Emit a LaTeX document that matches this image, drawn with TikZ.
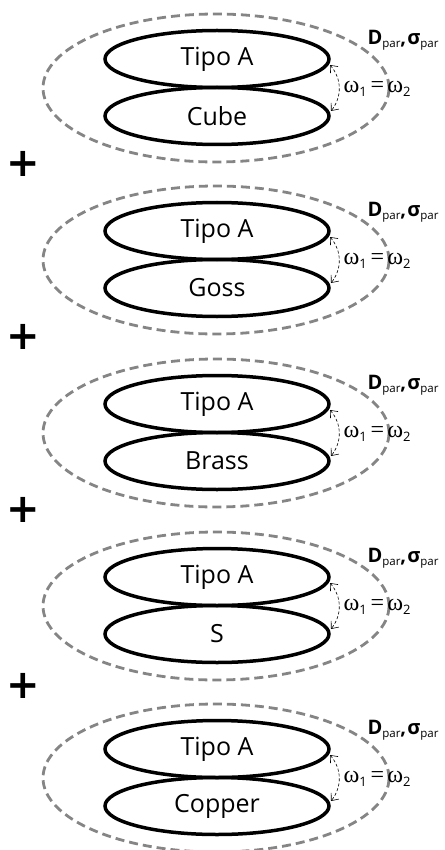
\documentclass[tikz,border=0pt]{standalone}
\usepackage{fontspec}
\setmainfont{Open Sans}
\newfontfamily\serifw{Liberation Serif}
\newfontfamily\plusfont{DejaVu Sans}
\usetikzlibrary{shapes.geometric,arrows.meta}
\definecolor{dashgray}{HTML}{858585}
\newcommand\sublab[1]{\lower3.5pt\hbox{\fontsize{11.5}{11.5}\selectfont\mdseries #1}}
\newcommand\Dlabel{{\fontsize{20}{20}\selectfont\bfseries D}\sublab{par}{\fontsize{20}{20}\selectfont\bfseries,\kern1pt σ}\sublab{par}}
\newcommand\wlabel{{\serifw\fontsize{24}{24}\selectfont ω}\lower3.5pt\hbox{\fontsize{13}{13}\selectfont 1}\kern4pt{\serifw\fontsize{24}{24}\selectfont =\kern3pt ω}\lower3.5pt\hbox{\fontsize{13}{13}\selectfont 2}}
\begin{document}
\begin{tikzpicture}[x=1pt,y=-1pt,
  outerell/.style={draw=dashgray, ellipse, dash pattern=on 9pt off 5pt, line width=2.8pt,
    minimum width=346pt, minimum height=148pt, inner sep=0pt},
  innerell/.style={draw=black, ellipse, line width=3.5pt, minimum width=224pt,
    minimum height=57pt, inner sep=0pt, outer sep=0pt, font=\fontsize{25}{28}\selectfont},
  plusmark/.style={inner sep=0pt, font=\plusfont\fontsize{40}{40}\selectfont\bfseries},
  dlab/.style={inner sep=0pt},
  wlab/.style={inner sep=0pt},
  eqarrow/.style={densely dashed, semithick, {Straight Barb[length=6pt,width=10pt]}-{Straight Barb[length=6pt,width=10pt]}}
]
\useasboundingbox (0,0) rectangle (444,850);
\foreach \i/\c/\lab in {1/88/Cube, 2/260/Goss, 3/433/Brass, 4/606/S, 5/778/Copper}{
  \node[outerell] (g\i) at (216,\c) {};
  \node[innerell] (t\i) at (217,\c-29) {Tipo A};
  \node[innerell] (b\i) at (217,\c+28) {\lab};
  \node[dlab] (d\i) at (403,\c-48) {\Dlabel};
  \node[wlab] (w\i) at (377,\c+1) {\wlabel};
  \draw[eqarrow] ([shift={(1pt,-6pt)}]t\i.east) to[bend left=40] ([shift={(2pt,5pt)}]b\i.east);
}
\foreach \i/\y in {1/164, 2/337, 3/510, 4/686}{
  \node[plusmark] (p\i) at (23,\y) {+};
}
\end{tikzpicture}
\end{document}
